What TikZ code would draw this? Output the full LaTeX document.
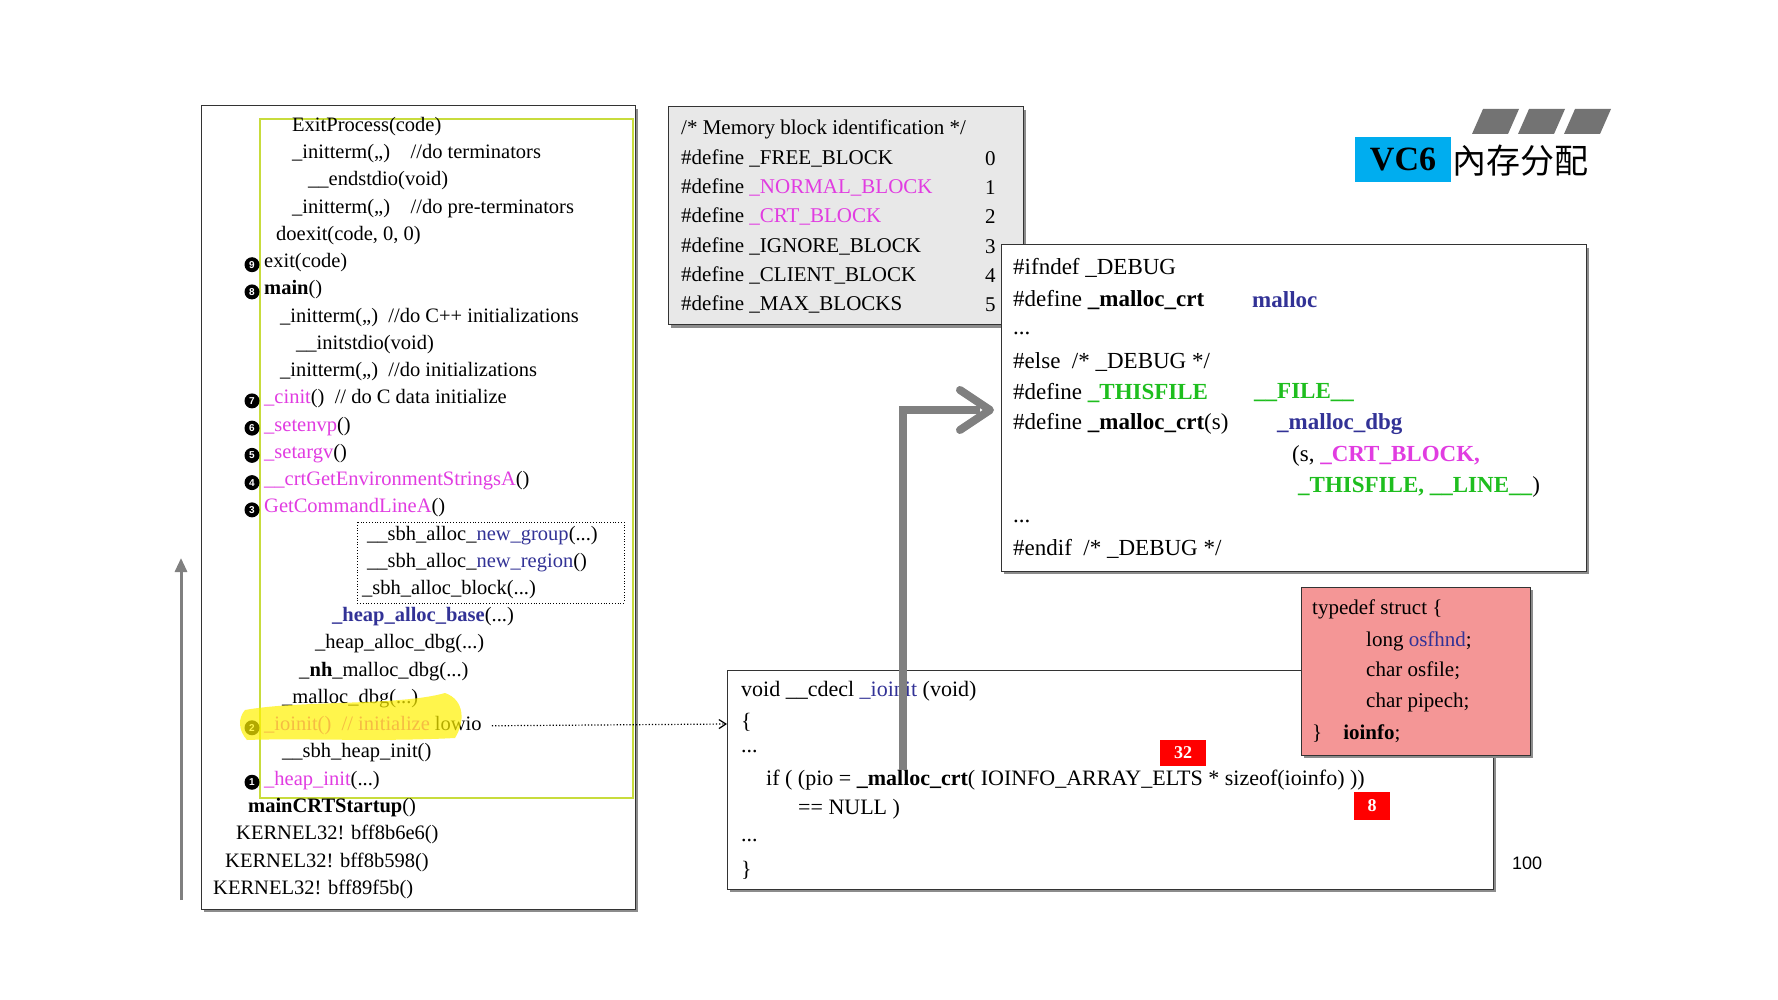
\documentclass[tikz,border=0pt]{standalone}
\usepackage{fontspec}
\setmainfont{Liberation Serif}
\newfontfamily\cjk{Noto Sans CJK SC}
\newfontfamily\sans{Liberation Sans}
\usetikzlibrary{arrows.meta}
\definecolor{mag}{RGB}{225,60,225}
\definecolor{nav}{RGB}{50,50,150}
\definecolor{grn}{RGB}{30,190,30}
\definecolor{pinkbox}{RGB}{244,150,150}
\newcommand{\M}[1]{\textcolor{mag}{#1}}
\newcommand{\B}[1]{\textcolor{nav}{#1}}
\newcommand{\G}[1]{\textcolor{grn}{#1}}
\newcommand{\us}{\_}
\begin{document}
\begin{tikzpicture}[x=1pt,y=-1pt,
  L/.style={anchor=west,inner sep=0pt,font=\fontsize{20.5}{22}\selectfont},
  D/.style={anchor=west,inner sep=0pt,font=\fontsize{23}{24}\selectfont},
  R/.style={anchor=west,inner sep=0pt,font=\fontsize{21}{22}\selectfont},
  bul/.style={circle,fill=black,text=white,inner sep=0pt,minimum size=15pt,font=\sans\bfseries\fontsize{10}{10}\selectfont},
  box/.style={draw=black!80,line width=1pt},
  shad/.style={fill=black!45},
  tag/.style={fill=red,text=white,font=\bfseries\fontsize{18}{18}\selectfont,inner sep=0pt,minimum width=44pt,minimum height=26pt}]
\useasboundingbox (0,0) rectangle (1778,1000);
% left box
\fill[shad] (204,109) rectangle (638,912);
\draw[box,fill=white] (201,106) rectangle (635,909);
\draw[draw={rgb,255:red,200;green,220;blue,60},line width=1.2pt] (260,119) rectangle (633,798);
\draw[dotted,line width=0.8pt] (357,522) rectangle (624,603);
\def\Y#1{126.5+27.24*(#1-1)}
\node[L] (l1) at (292,{\Y{1}}) {ExitProcess(code)};
\node[L] (l2) at (292,{\Y{2}}) {\us initterm(,,)\quad //do terminators};
\node[L] (l3) at (308,{\Y{3}}) {\us\us endstdio(void)};
\node[L] (l4) at (292,{\Y{4}}) {\us initterm(,,)\quad //do pre-terminators};
\node[L] (l5) at (276,{\Y{5}}) {doexit(code, 0, 0)};
\node[L] (l6) at (264,{\Y{6}}) {exit(code)};
\node[L] (l7) at (264,{\Y{7}}) {\textbf{main}()};
\node[L] (l8) at (280,{\Y{8}}) {\us initterm(,,)\enspace //do C++ initializations};
\node[L] (l9) at (296,{\Y{9}}) {\us\us initstdio(void)};
\node[L] (l10) at (280,{\Y{10}}) {\us initterm(,,)\enspace //do initializations};
\node[L] (l11) at (264,{\Y{11}}) {\M{\us cinit}()\enspace // do C data initialize};
\node[L] (l12) at (264,{\Y{12}}) {\M{\us setenvp}()};
\node[L] (l13) at (264,{\Y{13}}) {\M{\us setargv}()};
\node[L] (l14) at (264,{\Y{14}}) {\M{\us\us crtGetEnvironmentStringsA}()};
\node[L] (l15) at (264,{\Y{15}}) {\M{GetCommandLineA}()};
\node[L] (l16) at (367,{\Y{16}}) {\us\us sbh\us alloc\us\B{new\us group}(...)};
\node[L] (l17) at (367,{\Y{17}}) {\us\us sbh\us alloc\us\B{new\us region}()};
\node[L] (l18) at (362,{\Y{18}}) {\us sbh\us alloc\us block(...)};
\node[L] (l19) at (332,{\Y{19}}) {\B{\textbf{\us heap\us alloc\us base}}(...)};
\node[L] (l20) at (315,{\Y{20}}) {\us heap\us alloc\us dbg(...)};
\node[L] (l21) at (299,{\Y{21}}) {\us\textbf{nh}\us malloc\us dbg(...)};
\node[L] (l22) at (282,{\Y{22}}) {\us malloc\us dbg(...)};
\node[L] (l23) at (264,{\Y{23}}) {\M{\us ioinit()\enspace // initialize} lowio};
\node[L] (l24) at (282,{\Y{24}}) {\us\us sbh\us heap\us init()};
\node[L] (l25) at (264,{\Y{25}}) {\M{\us heap\us init}(...)};
\node[L] (l26) at (248,{\Y{26}}) {\textbf{mainCRTStartup}()};
\node[L] (l27) at (236,{\Y{27}}) {KERNEL32! bff8b6e6()};
\node[L] (l28) at (225,{\Y{28}}) {KERNEL32! bff8b598()};
\node[L] (l29) at (213,{\Y{29}}) {KERNEL32! bff89f5b()};
\foreach \n/\i in {9/6,8/7,7/11,6/12,5/13,4/14,3/15,2/23,1/25}
  \node[bul] (b\n) at (252,{\Y{\i}+2}) {\n};
% highlight
\fill[yellow,opacity=0.7] (245,710) .. controls (300,700) and (400,706) .. (445,693)
  .. controls (465,700) and (465,722) .. (455,738) .. controls (380,742) and (300,738) .. (247,740)
  .. controls (238,730) and (238,718) .. (245,710) -- cycle;
% left gray arrow
\draw[black!50,line width=3pt,-{Triangle[length=14pt,width=12pt]}] (181,900) coordinate (ga) -- (181,558) coordinate (gb);
% gray defines box
\fill[shad] (671,110) rectangle (1026,328);
\draw[box,fill=black!9] (668,107) rectangle (1023,325) node[coordinate] (gbox) {};
\node[R] (g0) at (681,129) {/* Memory block identification */};
\node[R] (g1) at (681,158.3) {\#define \us FREE\us BLOCK};
\node[R] (g2) at (681,187.6) {\#define \M{\us NORMAL\us BLOCK}};
\node[R] (g3) at (681,216.9) {\#define \M{\us CRT\us BLOCK}};
\node[R] (g4) at (681,246.2) {\#define \us IGNORE\us BLOCK};
\node[R] (g5) at (681,275.5) {\#define \us CLIENT\us BLOCK};
\node[R] (g6) at (681,304.8) {\#define \us MAX\us BLOCKS};
\foreach \k in {0,...,5} \node[R] (gn\k) at (985,{158.3+29.3*\k}) {\k};
% debug box
\fill[shad] (1004,248) rectangle (1589,574);
\draw[box,fill=white] (1001,245) rectangle (1586,571);
\node[D] (d1) at (1013,268) {\#ifndef \us DEBUG};
\node[D] (d2) at (1013,300) {\#define \textbf{\us malloc\us crt}};
\node[D,text=nav,font=\bfseries\fontsize{23}{24}\selectfont] (d2b) at (1252,300) {malloc};
\node[D] (d3) at (1013,333) {...};
\node[D] (d4) at (1013,362) {\#else\enspace /* \us DEBUG */};
\node[D] (d5) at (1013,393) {\#define \G{\textbf{\us THISFILE}}};
\node[D,text=grn,font=\bfseries\fontsize{23}{24}\selectfont] (d5b) at (1254,393) {\us\us FILE\us\us};
\node[D] (d6) at (1013,424) {\#define \textbf{\us malloc\us crt}(s)};
\node[D,text=nav,font=\bfseries\fontsize{23}{24}\selectfont] (d6b) at (1277,424) {\us malloc\us dbg};
\node[D] (d7) at (1292,456) {(s, \M{\textbf{\us CRT\us BLOCK,}}};
\node[D] (d8) at (1298,487) {\G{\textbf{\us THISFILE, \us\us LINE\us\us}})};
\node[D] (d9) at (1013,521) {...};
\node[D] (d10) at (1013,549) {\#endif\enspace /* \us DEBUG */};
% title
\fill[black!55] (1483,109) -- (1519,109) -- (1508,134) -- (1472,134) -- cycle;
\fill[black!55] (1529,109) -- (1565,109) -- (1554,134) -- (1518,134) -- cycle;
\fill[black!55] (1575,109) -- (1611,109) -- (1600,134) -- (1564,134) -- cycle;
\fill[cyan] (1355,137) rectangle (1451,182);
\node[anchor=center,inner sep=0pt,font=\bfseries\fontsize{34}{34}\selectfont] (t1) at (1403,160) {VC6};
\node[anchor=west,inner sep=0pt,font=\cjk\fontsize{34}{34}\selectfont] (t2) at (1452,161) {內存分配};
% ioinit box
\fill[shad] (730,673) rectangle (1496,892);
\draw[box,fill=white] (727,670) rectangle (1493,889);
\node[D,font=\fontsize{22}{24}\selectfont] (i1) at (741,691) {void \us\us cdecl \B{\us ioinit} (void)};
\node[D,font=\fontsize{22}{24}\selectfont] (i2) at (741,722) {\{};
\node[D,font=\fontsize{22}{24}\selectfont] (i3) at (741,752) {...};
\node[D,font=\fontsize{22}{24}\selectfont] (i4) at (766,780) {if ( (pio = \textbf{\us malloc\us crt}( IOINFO\us ARRAY\us ELTS * sizeof(ioinfo) ))};
\node[D,font=\fontsize{22}{24}\selectfont] (i5) at (798,809) {== NULL )};
\node[D,font=\fontsize{22}{24}\selectfont] (i6) at (741,841) {...};
\node[D,font=\fontsize{22}{24}\selectfont] (i7) at (741,870) {\}};
\node[tag,minimum width=46pt] (r32) at (1183,753) {32};
\node[tag,minimum width=36pt,minimum height=28pt] (r8) at (1372,806) {8};
% pink box
\fill[shad] (1304,590) rectangle (1533,758);
\draw[box,fill=pinkbox] (1301,587) rectangle (1530,755);
\node[R] (p1) at (1312,609) {typedef struct \{};
\node[R] (p2) at (1366,641) {long \B{osfhnd};};
\node[R] (p3) at (1366,671) {char osfile;};
\node[R] (p4) at (1366,702) {char pipech;};
\node[R] (p5) at (1312,734) {\}\quad \textbf{ioinfo};};
% page number
\node[anchor=west,inner sep=0pt,font=\sans\fontsize{18}{18}\selectfont] (pg) at (1512,863) {100};
% dotted arrow
\draw[dotted,line width=1.2pt,-{Straight Barb[length=7pt,width=9pt]}] (l23.east)+(10,0) -- (727,724);
% big gray arrow
\coordinate (ba) at (903,770);
\coordinate (bb) at (903,410);
\draw[black!50,line width=8pt] (ba) -- (bb) -- (980,410);
\draw[black!50,line width=8pt,line cap=round,line join=round] (960,390) -- (990,410) -- (960,430);
\end{tikzpicture}
\end{document}
